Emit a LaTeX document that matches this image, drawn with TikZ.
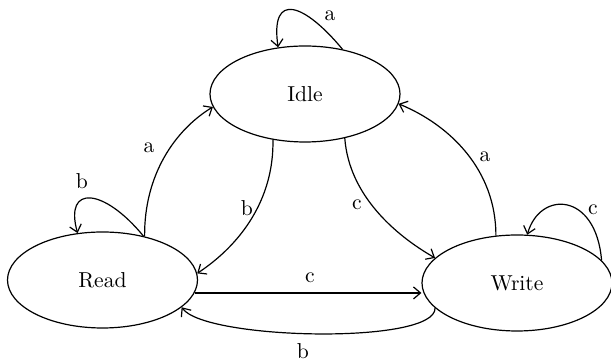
\documentclass[tikz,border=0pt]{standalone}
\usetikzlibrary{arrows.meta,shapes.geometric}

\begin{document}
\begin{tikzpicture}[x=0.5pt,y=-0.5pt,line width=0.6pt,font=\fontsize{10.8}{13}\selectfont,
    >={Straight Barb[length=3.5pt,width=6pt]},
    state/.style={draw,ellipse,minimum width=95pt,minimum height=48pt,inner sep=0pt},
    lbl/.style={inner sep=1pt}]
  \useasboundingbox (0,0) rectangle (611,362);
  % 状態
  \node[state] (idle)  at (305,94)    {Idle};
  \node[state] (read)  at (102.5,280) {Read};
  \node[state] (write) at (517,283)   {Write};
  % 自己ループ
  \draw[->] (idle.50) .. controls (305,4) and (270,-10) .. (idle.120);
  \node[lbl] (la0) at (330,16) {a};
  \draw[->] (read.47) .. controls (104,188) and (64,184) .. (read.118);
  \node[lbl] (lb0) at (82,181) {b};
  \draw[->] (write.15) .. controls (596,192) and (540,190) .. (write.78);
  \node[lbl] (lc0) at (593,210) {c};
  % 遷移
  \draw[->] (read.46) .. controls (144,175) and (175,130) .. (idle.188);
  \node[lbl] (la1) at (149,148) {a};
  \draw[->] (idle.235) .. controls (274,200) and (240,245) .. (read.4);
  \node[lbl] (lb1) at (247,208) {b};
  \draw[->] (idle.312) .. controls (349,195) and (395,235) .. (write.163);
  \node[lbl] (lc1) at (357,205) {c};
  \draw[->] (write.114) .. controls (496,170) and (450,125) .. (idle.354);
  \node[lbl] (la2) at (485,157) {a};
  \draw[->] (read.-8) -- (read.-8 -| write.west);
  \node[lbl] (lc2) at (310,278) {c};
  \draw[->] (write.197) .. controls (436,345) and (205,340) .. (read.-19);
  \node[lbl] (lb2) at (303,351) {b};
\end{tikzpicture}
\end{document}
